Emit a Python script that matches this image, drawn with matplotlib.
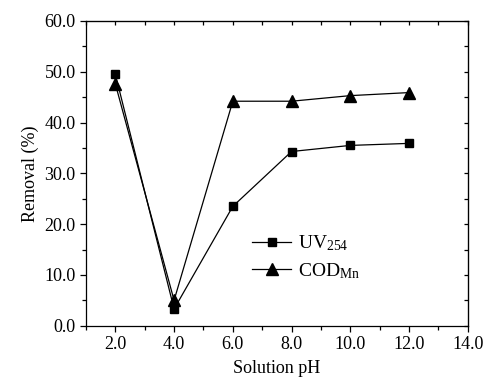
import matplotlib
matplotlib.use("Agg")
import matplotlib.pyplot as plt
from matplotlib.ticker import MultipleLocator, FormatStrFormatter

plt.rcParams['font.family'] = ['Liberation Serif', 'DejaVu Serif']
plt.rcParams['mathtext.fontset'] = 'custom'
plt.rcParams['mathtext.rm'] = 'Liberation Serif'
plt.rcParams['mathtext.it'] = 'Liberation Serif'

ph = [2, 4, 6, 8, 10, 12]
uv254 = [49.5, 3.3, 23.5, 34.3, 35.5, 35.9]
cod_mn = [47.6, 5.0, 44.2, 44.2, 45.3, 45.9]

fig = plt.figure(figsize=(4.9, 3.81), dpi=100)
ax = fig.add_axes([0.1755, 0.145, 0.779, 0.80])

ax.plot(ph, uv254, color='black', lw=0.9, marker='s', ms=6,
        label=r'UV$_{254}$')
ax.plot(ph, cod_mn, color='black', lw=0.9, marker='^', ms=8,
        label=r'COD$_{\mathrm{Mn}}$')

ax.set_xlim(1, 14)
ax.set_ylim(0, 60)
ax.xaxis.set_major_locator(MultipleLocator(2))
ax.xaxis.set_minor_locator(MultipleLocator(1))
ax.yaxis.set_major_locator(MultipleLocator(10))
ax.yaxis.set_minor_locator(MultipleLocator(5))
ax.xaxis.set_major_formatter(FormatStrFormatter('%.1f'))
ax.yaxis.set_major_formatter(FormatStrFormatter('%.1f'))
ax.set_xticks([2, 4, 6, 8, 10, 12, 14])

ax.tick_params(which='both', direction='out', top=False, right=False,
               labelsize=13, width=0.9)
ax.tick_params(which='major', length=4)
ax.tick_params(which='minor', length=3)

# inward ticks on the top and right frame
sec_x = ax.secondary_xaxis('top')
sec_x.xaxis.set_major_locator(MultipleLocator(1))
sec_x.tick_params(direction='in', length=3, labeltop=False, width=0.9)
sec_y = ax.secondary_yaxis('right')
sec_y.yaxis.set_major_locator(MultipleLocator(5))
sec_y.tick_params(direction='in', length=3, labelright=False, width=0.9)

for s in ax.spines.values():
    s.set_linewidth(0.9)

ax.set_xlabel('Solution pH', fontsize=13, labelpad=5)
ax.set_ylabel('Removal (%)', fontsize=13, labelpad=4)

ax.legend(loc='center left', bbox_to_anchor=(0.39, 0.225), frameon=False,
          fontsize=14, handlelength=2.0, handletextpad=0.35, labelspacing=0.4)

fig.savefig('out.png', dpi=100)
